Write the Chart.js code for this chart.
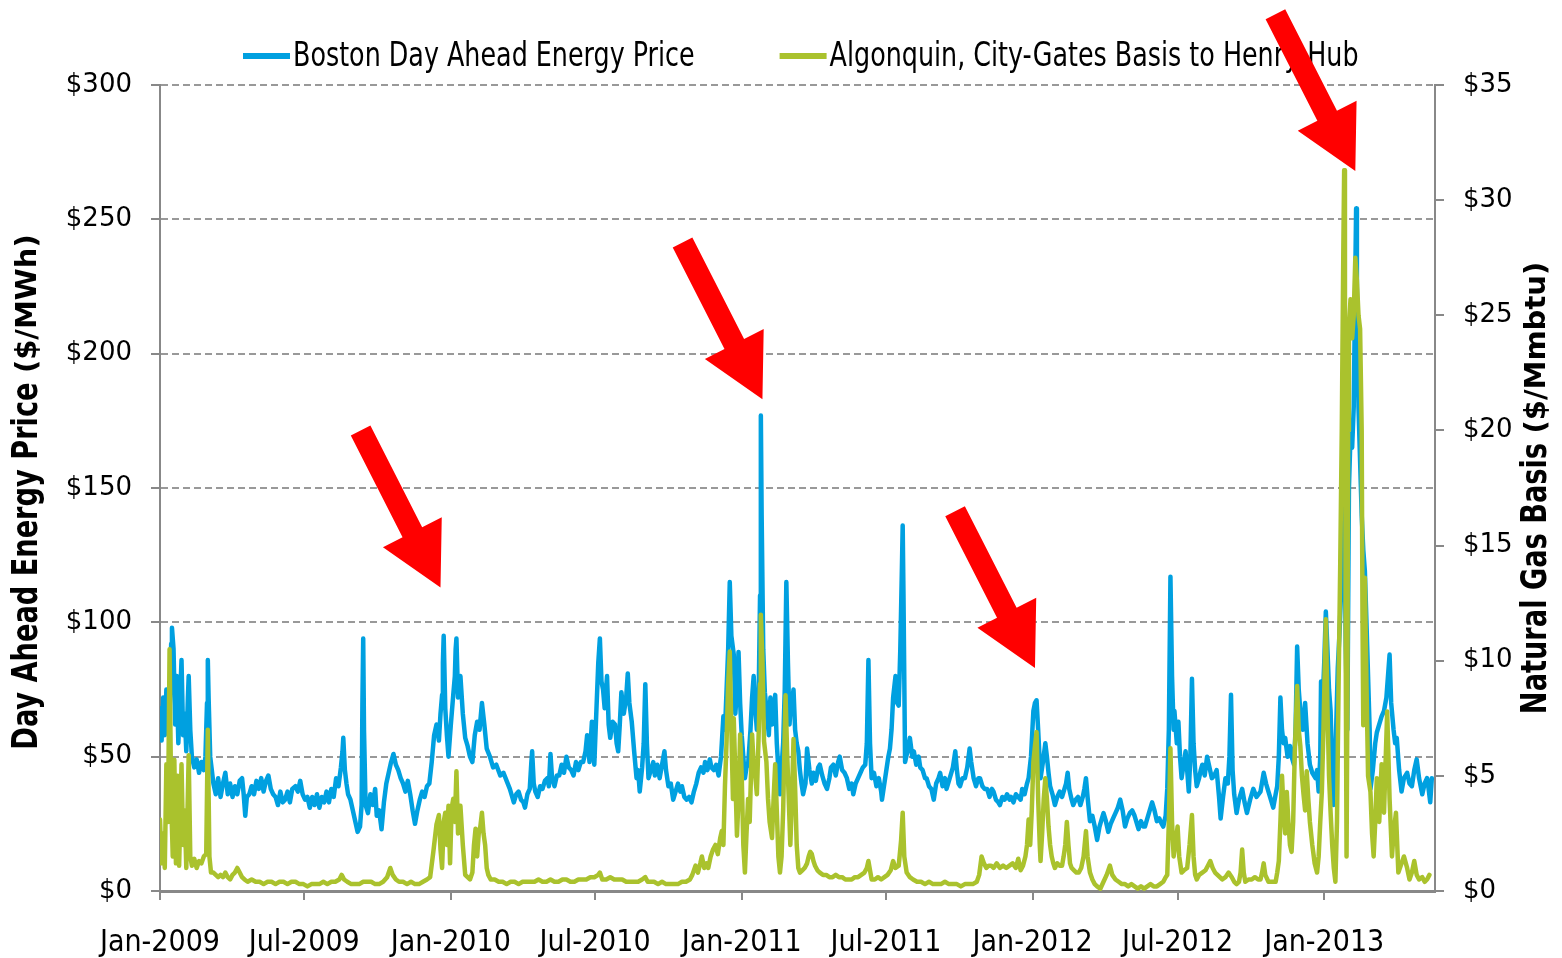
<!DOCTYPE html>
<html><head><meta charset="utf-8">
<script src="https://cdn.jsdelivr.net/npm/chart.js@4.4.1/dist/chart.umd.min.js"></script>
<style>html,body{margin:0;padding:0;background:#fff}#wrap{width:1562px;height:958px}</style>
</head><body><div id="wrap"><canvas id="c" width="1562" height="958"></canvas></div>
<script>
// ---------- data ----------
const seriesNames = ['Boston Day Ahead Energy Price', 'Algonquin, City-Gates Basis to Henry Hub'];
const leftAxisTitle = ['Day Ahead Energy Price ', '($/MWh)'];
const rightAxisTitle = ['Natural Gas Basis ', '($/Mmbtu)'];
// days since 1 Jan 2009
const tickDays = [0, 181, 365, 546, 730, 911, 1095, 1277, 1461];
const tickLabels = ['Jan-2009', 'Jul-2009', 'Jan-2010', 'Jul-2010', 'Jan-2011', 'Jul-2011', 'Jan-2012', 'Jul-2012', 'Jan-2013'];

const bostonDays = [0,2,4,6,8,10,12,14,15,17,19,21,23,25,27,29,31,33,35,36,38,40,43,46,49,52,55,57,59,60,61,63,65,67,70,73,76,79,82,85,88,91,94,97,100,103,105,107,109,112,115,118,121,124,127,130,133,136,139,142,145,148,151,154,157,160,163,166,170,173,176,179,182,185,188,191,194,197,200,203,206,209,212,215,218,221,224,227,229,230,232,234,236,239,242,245,248,251,253,254,255,256,258,261,264,267,270,272,275,278,281,284,287,290,293,296,299,302,305,308,311,314,317,320,323,326,329,332,335,338,341,344,347,350,352,354,355,356,358,360,362,365,368,370,371,372,374,377,380,383,386,389,392,395,398,401,404,407,410,414,418,422,427,431,435,439,442,444,447,450,453,456,458,461,464,466,467,469,471,474,477,480,483,486,488,490,492,495,498,501,504,507,510,513,516,519,522,525,528,531,534,536,539,542,545,548,550,552,554,556,558,561,563,565,568,571,573,575,577,579,582,585,587,589,592,595,598,600,602,605,607,609,611,613,616,619,621,624,627,630,633,635,638,641,644,647,650,653,655,658,661,664,667,670,673,676,679,682,684,687,690,692,695,698,701,704,707,709,711,713,715,717,720,722,724,726,728,730,732,734,736,738,741,743,745,747,749,751,753,754,755,757,759,762,764,766,768,770,772,774,776,778,780,782,784,786,788,790,791,793,795,797,799,801,803,805,807,810,812,815,818,820,823,826,828,831,834,837,840,842,845,848,851,853,856,859,862,865,868,870,873,876,879,882,885,887,889,891,893,896,899,902,905,906,909,912,914,916,918,920,923,925,927,929,931,932,933,935,938,941,944,946,949,952,954,957,960,962,965,968,971,974,977,979,982,985,987,990,993,995,998,1000,1002,1004,1007,1010,1013,1016,1018,1021,1024,1027,1029,1032,1035,1038,1041,1044,1046,1049,1052,1054,1057,1060,1063,1066,1068,1071,1074,1077,1080,1082,1085,1088,1090,1093,1096,1098,1100,1102,1105,1108,1111,1113,1115,1117,1120,1123,1126,1129,1132,1135,1137,1139,1141,1144,1146,1149,1152,1155,1158,1160,1162,1164,1167,1170,1173,1176,1179,1182,1184,1187,1190,1193,1196,1199,1202,1205,1208,1211,1214,1217,1220,1223,1226,1228,1231,1234,1236,1239,1242,1245,1248,1251,1254,1257,1259,1262,1264,1266,1268,1270,1272,1273,1276,1278,1280,1282,1285,1287,1289,1291,1293,1295,1297,1299,1301,1304,1306,1308,1311,1314,1317,1320,1323,1326,1329,1331,1334,1337,1340,1342,1344,1346,1348,1351,1354,1358,1361,1364,1368,1372,1376,1381,1385,1388,1391,1394,1397,1400,1402,1404,1406,1408,1410,1412,1415,1418,1420,1423,1425,1427,1429,1431,1434,1437,1440,1443,1446,1450,1452,1454,1456,1457,1459,1461,1463,1465,1467,1469,1471,1473,1475,1478,1480,1482,1484,1486,1488,1490,1492,1494,1496,1498,1500,1501,1502,1504,1506,1508,1510,1512,1514,1516,1518,1519,1522,1525,1527,1530,1533,1536,1539,1541,1543,1545,1548,1550,1552,1555,1558,1561,1565,1568,1571,1574,1577,1580,1584,1587,1590,1592,1594,1596];
const bostonPrice = [68,56,72,58,75,62,66,92,98,90,62,80,55,70,86,58,66,52,72,80,60,50,46,49,44,48,45,50,70,86,72,50,45,40,36,42,35,40,44,36,40,35,39,36,41,42,36,28,35,36,39,36,41,38,42,37,41,43,38,36,35,32,37,33,34,37,33,38,39,37,41,36,34,35,31,35,32,36,31,35,33,37,33,38,35,42,39,46,52,57,45,40,36,34,30,26,22,24,32,70,94,60,32,29,36,32,38,28,30,23,33,40,44,48,51,47,45,42,40,37,41,36,30,25,30,34,37,35,39,40,48,58,62,56,66,73,85,95,68,58,50,62,73,80,90,94,72,80,66,57,54,50,48,58,63,60,70,62,53,50,46,47,43,44,41,38,35,33,36,37,34,33,31,36,38,48,52,40,37,35,39,38,41,42,39,51,42,39,43,43,47,44,50,46,45,43,48,45,48,48,52,58,48,63,47,70,85,94,78,75,68,80,62,57,63,62,55,52,62,74,66,72,81,70,63,52,42,45,37,46,55,77,55,42,45,48,43,47,42,47,52,45,39,40,34,37,40,37,39,35,34,35,33,37,40,44,46,44,48,45,49,46,45,47,43,50,65,60,75,90,115,95,88,66,75,89,70,58,50,42,46,47,60,72,80,68,60,67,110,177,140,90,74,65,58,72,62,66,73,55,45,36,46,55,75,115,85,62,67,70,75,60,55,52,45,40,36,40,53,45,40,44,41,46,47,43,40,38,42,46,47,43,48,50,45,44,42,38,40,36,40,42,44,46,47,55,86,55,42,44,39,42,37,34,40,46,50,53,60,72,80,70,69,90,120,136,110,48,52,57,50,52,47,50,46,45,42,42,39,38,34,40,42,44,39,42,38,41,44,46,52,45,40,39,42,42,46,53,48,42,39,42,42,39,38,38,35,38,37,34,33,32,35,34,36,34,35,33,36,35,34,38,36,40,42,50,67,70,71,60,42,48,55,50,44,39,36,32,35,37,35,38,40,44,38,34,32,34,35,32,35,38,42,35,26,28,24,19,24,27,29,26,22,25,27,29,31,34,30,24,27,29,30,28,25,23,26,24,24,27,30,33,30,26,27,25,24,28,38,60,117,80,60,67,55,63,50,42,48,52,45,37,50,79,55,45,39,42,45,47,43,50,46,42,43,45,35,27,35,42,40,50,73,45,36,29,34,38,33,29,34,38,35,37,44,40,37,34,31,36,39,50,72,60,55,57,50,54,50,47,60,91,75,67,60,70,55,47,44,42,45,37,50,78,70,85,104,90,75,67,45,32,50,83,95,110,140,150,90,60,150,170,165,180,230,254,225,180,160,140,127,119,100,80,60,38,45,55,59,62,65,67,72,80,88,70,60,55,57,45,37,42,44,40,39,45,49,42,36,40,42,38,33,42];

const gasDays = [0,2,4,6,8,10,12,14,16,18,20,22,24,27,29,31,33,36,38,40,43,46,49,52,55,58,60,62,64,67,70,73,76,79,82,85,88,91,94,97,100,103,106,110,115,120,125,130,135,140,145,150,155,160,165,170,175,180,185,190,195,200,205,210,215,220,225,228,231,235,240,245,250,255,260,265,270,275,280,285,289,292,296,300,305,310,315,320,325,330,335,339,343,347,350,352,354,356,358,360,362,364,366,368,370,372,374,377,380,383,386,389,392,394,396,398,400,402,404,406,408,410,412,415,420,425,430,435,440,445,450,455,460,465,470,475,480,485,490,495,500,505,510,515,520,525,530,535,540,545,550,552,555,560,565,570,575,580,585,590,595,600,605,609,612,615,620,625,630,635,640,645,650,655,660,665,668,672,675,678,680,683,686,688,691,694,697,700,703,705,707,709,711,713,715,717,719,720,722,724,726,728,730,732,734,736,738,740,743,745,747,749,751,753,754,756,758,761,763,765,768,770,772,774,776,778,780,782,785,787,789,791,793,795,797,799,801,803,806,809,812,814,816,818,820,822,825,828,832,836,840,844,848,852,856,860,864,868,872,876,880,884,887,889,891,893,897,901,905,909,913,917,920,923,927,930,932,934,937,941,945,950,955,960,965,970,975,980,985,990,995,1000,1005,1010,1015,1020,1025,1028,1031,1034,1037,1040,1043,1046,1050,1054,1058,1062,1066,1070,1074,1077,1080,1083,1086,1088,1090,1092,1094,1096,1098,1100,1102,1104,1105,1107,1109,1111,1113,1115,1117,1119,1121,1123,1126,1129,1132,1134,1136,1138,1140,1142,1144,1147,1150,1153,1156,1159,1162,1164,1167,1170,1173,1176,1180,1184,1188,1192,1195,1199,1203,1207,1211,1215,1219,1223,1227,1231,1235,1239,1243,1247,1251,1255,1259,1262,1264,1266,1268,1270,1272,1274,1277,1279,1282,1285,1289,1292,1295,1297,1299,1301,1304,1308,1312,1315,1318,1321,1324,1327,1330,1333,1337,1341,1345,1348,1351,1354,1356,1358,1360,1362,1366,1370,1374,1378,1381,1383,1385,1387,1391,1395,1400,1402,1404,1406,1408,1410,1412,1414,1416,1418,1420,1422,1424,1427,1429,1431,1433,1435,1437,1439,1441,1443,1446,1449,1452,1454,1456,1458,1460,1463,1465,1467,1469,1471,1473,1475,1477,1479,1481,1483,1485,1486,1487,1488,1489,1490,1491,1492,1494,1496,1498,1500,1502,1504,1506,1508,1509,1510,1512,1514,1516,1519,1521,1523,1525,1527,1530,1533,1536,1540,1543,1546,1548,1551,1554,1558,1561,1565,1568,1571,1574,1577,1580,1584,1587,1590,1593,1596];
const gasBasis = [3.1,1.2,2.5,1.0,5.5,3.0,10.5,4.0,1.5,5.7,1.2,5.0,1.1,5.5,2.0,3.5,1.0,5.9,1.5,1.1,1.4,1.0,1.3,1.2,1.5,1.6,7.0,1.5,0.8,0.8,0.7,0.6,0.7,0.6,0.8,0.6,0.5,0.7,0.8,1.0,0.8,0.6,0.5,0.4,0.5,0.4,0.4,0.3,0.4,0.4,0.3,0.4,0.4,0.3,0.4,0.4,0.3,0.3,0.2,0.3,0.3,0.3,0.4,0.3,0.4,0.4,0.5,0.7,0.5,0.4,0.3,0.3,0.3,0.4,0.4,0.4,0.3,0.3,0.4,0.6,1.0,0.7,0.5,0.4,0.4,0.3,0.4,0.3,0.3,0.4,0.5,0.6,1.7,2.9,3.3,1.8,1.0,3.0,3.4,2.0,3.7,1.2,3.6,4.0,3.0,5.2,2.5,3.7,2.0,0.7,0.6,0.5,0.8,2.0,2.7,1.5,2.5,2.8,3.4,2.5,2.0,1.0,0.7,0.5,0.5,0.4,0.4,0.3,0.4,0.4,0.3,0.4,0.4,0.4,0.4,0.5,0.4,0.4,0.5,0.4,0.4,0.5,0.5,0.4,0.4,0.5,0.5,0.5,0.6,0.6,0.7,0.8,0.5,0.5,0.6,0.5,0.5,0.5,0.4,0.4,0.4,0.4,0.5,0.6,0.4,0.4,0.4,0.3,0.4,0.3,0.3,0.3,0.3,0.4,0.4,0.5,0.7,1.1,0.8,1.2,1.5,1.0,1.2,1.0,1.5,1.8,2.0,1.6,2.3,2.6,2.0,4.6,6.5,9.0,10.4,7.0,4.0,7.5,5.0,2.4,4.0,6.8,5.0,2.0,0.8,2.5,4.0,3.0,6.8,5.5,5.0,4.2,6.5,9.0,12.0,10.0,6.5,5.6,4.0,3.0,2.3,4.0,5.5,3.5,1.5,0.8,1.5,3.5,8.5,6.0,4.0,2.0,4.0,6.6,4.5,2.0,1.0,0.8,0.9,1.0,1.2,1.5,1.7,1.6,1.3,1.1,0.9,0.8,0.7,0.7,0.6,0.6,0.7,0.6,0.6,0.5,0.5,0.5,0.6,0.6,0.7,0.8,1.0,1.3,0.9,0.5,0.5,0.6,0.5,0.6,0.7,0.9,1.3,1.0,1.1,2.2,3.4,1.5,0.8,0.6,0.5,0.4,0.4,0.3,0.4,0.3,0.3,0.3,0.4,0.3,0.3,0.3,0.2,0.3,0.3,0.3,0.4,0.7,1.5,1.2,1.0,1.1,1.1,1.0,1.2,1.0,1.1,1.0,1.1,1.2,1.0,1.4,0.9,1.1,1.5,2.0,3.1,2.0,3.5,5.6,6.3,6.9,4.0,2.0,1.3,2.5,4.0,4.9,4.0,2.8,2.0,1.5,1.2,1.0,1.2,1.1,1.1,1.5,2.0,3.0,2.0,1.2,1.0,0.9,0.8,0.8,1.0,1.5,2.6,1.5,0.8,0.5,0.3,0.2,0.1,0.4,0.7,1.1,0.7,0.5,0.4,0.3,0.3,0.2,0.3,0.2,0.1,0.2,0.1,0.2,0.3,0.2,0.2,0.3,0.4,0.6,0.7,3.0,6.2,3.0,1.5,2.0,2.8,1.5,0.8,0.9,1.0,2.0,3.3,1.5,0.7,0.5,0.7,0.8,0.9,1.1,1.3,1.0,0.8,0.7,0.6,0.5,0.6,0.8,0.6,0.4,0.3,0.4,0.8,1.8,0.8,0.4,0.5,0.5,0.6,0.5,0.5,0.8,1.2,0.7,0.4,0.4,0.4,0.8,1.3,3.0,5.0,3.5,2.5,4.3,3.0,2.0,1.7,3.0,6.0,8.9,7.0,6.3,5.0,4.2,3.5,5.2,4.0,3.0,2.0,1.2,0.8,1.5,3.0,4.3,7.0,11.8,8.0,5.0,3.4,2.0,1.0,0.4,3.0,8.9,14.0,20.0,28.0,31.3,25.0,10.0,1.5,8.0,20.0,24.5,25.7,24.0,25.0,27.5,26.5,25.0,24.4,20.0,12.0,7.2,13.6,9.0,5.0,4.3,2.5,1.5,3.0,4.9,3.0,5.5,3.4,7.8,4.0,1.5,2.5,3.4,0.8,1.2,1.5,1.0,0.5,0.8,1.3,0.7,0.5,0.6,0.4,0.5,0.7];

// arrow annotations: tip of each arrow, in (day, $/MWh)
const arrowTipDays = [352, 756, 1098, 1500];
const arrowTipPrices = [113, 183, 83, 268];

// ---------- styling ----------
const COND = '"DejaVu Sans Condensed", "DejaVu Sans", sans-serif';
const TICKFONT = '"DejaVu Sans", Verdana, sans-serif';
const BLUE = '#00a0e0';
const GREEN = '#aac22d';

function squeezedText(ctx, text, x, y, sx) {
  ctx.save();
  ctx.translate(x, y);
  ctx.scale(sx, 1);
  ctx.fillText(text, 0, 0);
  ctx.restore();
  return ctx.measureText(text).width * sx;
}

const decor = {
  id: 'decor',
  afterDraw(chart) {
    const ctx = chart.ctx;
    const area = chart.chartArea;
    // legend
    ctx.save();
    ctx.font = '34px ' + COND;
    ctx.textBaseline = 'middle';
    let lx = 243;
    chart.data.datasets.slice().sort((a, b) => a.legendIndex - b.legendIndex).forEach(ds => {
      ctx.fillStyle = ds.borderColor;
      ctx.fillRect(lx, 53, 47, 6);
      ctx.fillStyle = '#000';
      const w = squeezedText(ctx, ds.label, lx + 50, 57, 0.83);
      lx += 50 + w + 85;
    });
    ctx.restore();
    // axis titles (rotated, bottom-to-top)
    const drawTitle = (parts, cx, cy) => {
      ctx.save();
      ctx.translate(cx, cy);
      ctx.rotate(-Math.PI / 2);
      ctx.textBaseline = 'middle';
      ctx.fillStyle = '#000';
      const fonts = ['bold 36px ' + COND, 'bold 29px "DejaVu Sans", sans-serif'];
      const sx = [0.84, 1];
      let total = 0;
      const ws = parts.map((p, i) => { ctx.font = fonts[i]; const w = ctx.measureText(p).width * sx[i]; total += w; return w; });
      let x = -total / 2;
      parts.forEach((p, i) => { ctx.font = fonts[i]; squeezedText(ctx, p, x, 0, sx[i]); x += ws[i]; });
      ctx.restore();
    };
    drawTitle(leftAxisTitle, 28, (area.top + area.bottom) / 2 + 4);
    drawTitle(rightAxisTitle, 1537, (area.top + area.bottom) / 2);
    // arrows
    const xs = chart.scales.x, ys = chart.scales.y;
    const ang = 27 * Math.PI / 180;
    const ux = Math.sin(ang), uy = Math.cos(ang);
    const nx = Math.cos(ang), ny = -Math.sin(ang);
    const L = 176, HL = 62, HW = 66, SW = 22;
    ctx.save();
    ctx.fillStyle = '#ff0000';
    arrowTipDays.forEach((d, i) => {
      const tx = xs.getPixelForValue(d), ty = ys.getPixelForValue(arrowTipPrices[i]);
      const bx = tx - ux * HL, by = ty - uy * HL;
      const ax = tx - ux * L, ay = ty - uy * L;
      ctx.beginPath();
      ctx.moveTo(tx, ty);
      ctx.lineTo(bx + nx * HW / 2, by + ny * HW / 2);
      ctx.lineTo(bx + nx * SW / 2, by + ny * SW / 2);
      ctx.lineTo(ax + nx * SW / 2, ay + ny * SW / 2);
      ctx.lineTo(ax - nx * SW / 2, ay - ny * SW / 2);
      ctx.lineTo(bx - nx * SW / 2, by - ny * SW / 2);
      ctx.lineTo(bx - nx * HW / 2, by - ny * HW / 2);
      ctx.closePath();
      ctx.fill();
    });
    ctx.restore();
  }
};

new Chart(document.getElementById('c'), {
  type: 'line',
  data: {
    datasets: [
      {
        label: seriesNames[0], legendIndex: 0, order: 2, yAxisID: 'y',
        data: bostonDays.map((d, i) => ({ x: d, y: bostonPrice[i] })),
        borderColor: BLUE, backgroundColor: BLUE, borderWidth: 4.5,
        pointRadius: 0, tension: 0, borderJoinStyle: 'round', borderCapStyle: 'round'
      },
      {
        label: seriesNames[1], legendIndex: 1, order: 1, yAxisID: 'y2',
        data: gasDays.map((d, i) => ({ x: d, y: gasBasis[i] })),
        borderColor: GREEN, backgroundColor: GREEN, borderWidth: 4.5,
        pointRadius: 0, tension: 0, borderJoinStyle: 'round', borderCapStyle: 'round'
      }
    ]
  },
  options: {
    responsive: false, animation: false, devicePixelRatio: 1,
    layout: { padding: { top: 85, left: 0, right: 0, bottom: 0 } },
    plugins: { legend: { display: false }, tooltip: { enabled: false } },
    scales: {
      x: {
        type: 'linear', min: 0, max: 1600,
        afterBuildTicks: (s) => { s.ticks = tickDays.map(v => ({ value: v })); },
        afterFit: (s) => { s.height = 67; },
        ticks: {
          autoSkip: false, maxRotation: 0, minRotation: 0, padding: 25, color: '#000',
          font: { family: COND, size: 30 },
          callback: (v) => { const i = tickDays.indexOf(v); return i >= 0 ? tickLabels[i] : ''; }
        },
        grid: { drawOnChartArea: false, drawTicks: true, tickLength: 9, color: '#888', lineWidth: 2 },
        border: { color: '#888', width: 3 }
      },
      y: {
        position: 'left', min: 0, max: 300,
        afterFit: (s) => { s.width = 160; },
        ticks: { stepSize: 50, padding: 19, color: '#000', font: { family: TICKFONT, size: 26 }, callback: (v) => '$' + v },
        grid: {
          color: (c) => (c.tick && c.tick.value === 0) ? 'rgba(0,0,0,0)' : '#999',
          lineWidth: 2, tickLength: 9, tickColor: '#888', tickBorderDash: [], tickWidth: 2
        },
        border: { color: '#888', width: 2, dash: [7, 4] }
      },
      y2: {
        position: 'right', min: 0, max: 35,
        afterFit: (s) => { s.width = 127; },
        ticks: { stepSize: 5, padding: 19, color: '#000', font: { family: TICKFONT, size: 26 }, callback: (v) => '$' + v },
        grid: { drawOnChartArea: false, tickLength: 9, color: '#888', lineWidth: 2 },
        border: { color: '#888', width: 2 }
      }
    }
  },
  plugins: [decor]
});
</script>
</body></html>
